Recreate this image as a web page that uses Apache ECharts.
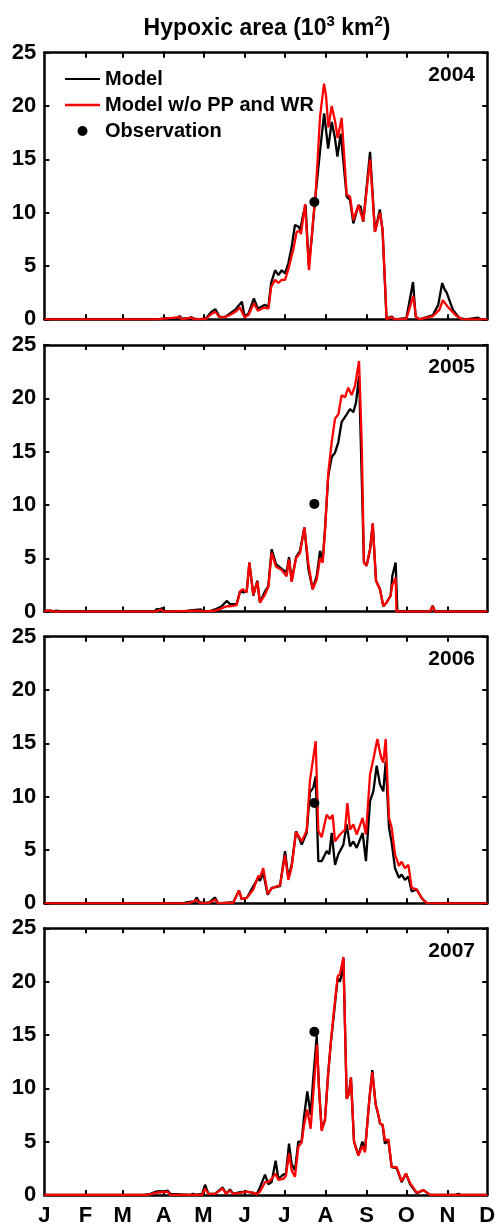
<!DOCTYPE html>
<html>
<head>
<meta charset="utf-8">
<script src="https://cdn.jsdelivr.net/npm/echarts@6.0.0/dist/echarts.min.js"></script>
<style>
html,body{margin:0;padding:0;background:#fff;}
#chart{width:496px;height:1224px;}
</style>
</head>
<body>
<div id="chart"></div>
<script>
// ---- axis definitions ----
const MONTH_DAYS = [0, 31, 59, 90, 120, 151, 181, 212, 243, 273, 304, 334];
const MONTH_LABELS = ['J', 'F', 'M', 'A', 'M', 'J', 'J', 'A', 'S', 'O', 'N', 'D'];
const Y_MIN = 0, Y_MAX = 25, Y_STEP = 5;
const YEARS = ['2004', '2005', '2006', '2007'];
const TITLE_MAIN = 'Hypoxic area (10{sup|3} km{sup|2})';
const NAME_MODEL = 'Model';
const NAME_NOPP = 'Model w/o PP and WR';
const NAME_OBS = 'Observation';

// ---- data: [day of year, hypoxic area (10^3 km^2)] ----
const model2004 = [[0,0],[85,0],[92,0.1],[95,0.05],[100,0.1],[102,0.3],[104,0.05],[109,0.1],[111,0.2],[113,0.05],[118,0],[122,0.1],[126,0.7],[129,0.95],[132,0.25],[136,0.2],[140,0.55],[144,0.9],[146,1.2],[149,1.65],[151,0.25],[154,0.55],[158,1.95],[161,1.0],[164,1.2],[166,1.35],[169,1.2],[171,3.4],[174,4.6],[176.5,4.15],[179,4.6],[181.5,4.3],[184,5.25],[186.5,6.8],[189,8.85],[191.5,8.7],[193,8.4],[195.3,9.9],[197,10.7],[199.4,5.0],[201.5,7.5],[204,11.0],[208,15.9],[211,19.3],[214,16.0],[216.7,18.5],[219,17.1],[221,15.25],[223.5,17.4],[228,11.5],[230.5,11.2],[233,9.0],[236.8,10.7],[238.5,10.55],[240.5,9.15],[245.6,15.7],[249.3,8.2],[253,10.3],[255,8.4],[258,0.1],[262,0.25],[264,0],[273,0.1],[278,3.5],[280,0.25],[283,0],[293,0.4],[297,1.35],[300,3.4],[302,2.75],[303.4,2.5],[308,0.9],[313,0.1],[318,0],[327,0.15],[329,0],[334,0]];
const noPP2004 = [[0,0],[85,0],[102,0.2],[104,0],[111,0.15],[113,0],[122,0.05],[126,0.5],[129,0.7],[132,0.2],[136,0.2],[140,0.4],[144,0.7],[147.5,1.1],[149,1.2],[151,0.2],[154,0.4],[158,1.5],[161,0.8],[166,1.1],[169,1.0],[171,3.0],[174,3.7],[176.5,3.4],[179,3.7],[181.5,3.7],[184,4.7],[187.8,6.6],[190.3,8.2],[192.3,8.3],[193.5,8.0],[196.6,10.8],[199.6,4.6],[202.8,9.5],[204.6,11.8],[207.9,19.0],[210.9,22.1],[212.4,21.0],[214.2,18.0],[216.7,20.0],[219.2,18.6],[221.2,17.0],[224.2,18.9],[228,11.7],[230.5,11.5],[233,9.3],[236.8,10.7],[240.5,9.2],[245.6,15.0],[249.3,8.2],[253.1,10.0],[255.1,8.3],[258.1,0],[261.9,0.2],[264,0],[273,0.05],[278.2,2.2],[280.2,0.2],[283,0],[293,0.3],[298,0.9],[300.4,1.8],[304,1.2],[310.8,0.3],[315,0],[334,0]];
const obs2004 = [[203.6, 11.0]];

const model2005 = [[0,0],[2,0.1],[5,0.1],[7,0],[9,0.1],[11,0.05],[13,0],[83,0],[85,0.25],[87,0.2],[89,0.35],[91,0],[106,0],[108.5,0.1],[110,0],[118,0.2],[120,0],[125,0.05],[128.7,0.2],[133.7,0.5],[137.5,1.0],[140,0.7],[145,0.7],[147.6,1.9],[150.1,1.8],[152.6,1.9],[154.6,4.6],[157.6,1.5],[160.6,2.9],[162.6,0.85],[166.4,1.9],[168.9,2.4],[171.4,5.85],[174.7,4.45],[179,4.0],[182.7,3.7],[184.5,5.1],[186.5,2.9],[189.8,5.1],[192.8,5.7],[196.1,7.9],[199.1,4.0],[202.3,2.1],[205.4,3.35],[207.9,5.7],[209.9,4.8],[211.6,7.7],[214.1,12.75],[216.7,14.5],[219.2,14.9],[221.7,15.9],[224.2,17.8],[228,18.5],[230.5,19.0],[233,18.7],[235,19.6],[237.3,22.1],[239.3,12.75],[241,4.6],[243,4.3],[245.6,5.85],[247.6,8.2],[250.1,2.9],[253.1,2.1],[255.6,0.5],[258.1,0.85],[261.1,1.5],[262.4,3.35],[264.9,4.6],[266.2,0],[290.8,0],[292.8,0.55],[294.6,0],[334,0]];
const noPP2005 = [[0,0],[2,0.1],[5,0.1],[7,0],[83,0],[86,0.1],[88,0.2],[90,0],[118,0.1],[120,0],[128.7,0.1],[133.7,0.3],[137.5,0.5],[140,0.5],[145,0.6],[147.6,1.9],[149.6,2.1],[152.6,1.8],[154.6,4.6],[157.6,1.6],[160.6,2.8],[162.6,0.85],[166.4,1.6],[168.9,2.3],[171.4,5.5],[174.7,4.2],[179,3.9],[182.7,3.3],[184.5,4.9],[186.5,2.8],[189.8,5.0],[192.8,5.5],[196.1,7.9],[199.1,4.5],[202.3,2.1],[205.4,3.0],[207.9,5.0],[209.9,4.6],[211.6,7.5],[214.1,13.0],[216.7,15.9],[219.2,18.1],[221.7,18.5],[224.2,20.3],[226.7,20.1],[229.2,21.0],[231.7,20.3],[234.3,21.2],[237.3,23.5],[239.3,15.9],[241,4.6],[243,4.3],[245.6,5.8],[247.6,8.3],[250.1,2.9],[253.1,2.1],[255.6,0.5],[258.1,0.85],[261.1,1.5],[262.4,2.5],[264.9,3.2],[265.5,0],[290.8,0],[292.8,0.5],[294.6,0],[334,0]];
const obs2005 = [[203.6, 10.1]];

const model2006 = [[0,0],[104,0],[108,0.1],[111,0.15],[113,0.1],[114.8,0.55],[117,0.1],[120,0.05],[124,0.05],[128.7,0.55],[131,0],[142.5,0.1],[146.8,1.2],[148.8,0.4],[152.6,0.5],[157.6,1.6],[161.4,2.4],[162.6,2.1],[165.1,2.85],[168.4,0.8],[171.4,1.45],[177.7,1.6],[181.5,4.9],[184,2.4],[186.5,3.6],[189.8,6.75],[194.1,5.5],[197.8,6.6],[200.3,10.4],[202.8,10.85],[204.6,11.9],[206.6,3.95],[209.1,3.95],[212.9,4.9],[214.9,4.6],[216.7,6.6],[219.2,3.6],[221.7,4.6],[225.5,5.5],[228,7.4],[230.5,5.35],[233,5.8],[235.5,5.2],[240,6.6],[242.5,3.95],[245.6,9.6],[248.1,10.5],[250.6,12.9],[253.1,11.15],[255.6,10.5],[257.4,13.3],[259.9,7.1],[261.9,5.7],[264.4,3.3],[267.4,2.4],[269.4,2.7],[271.9,2.2],[274.5,2.5],[277,1.1],[280.7,1.3],[284.5,0.5],[288.3,0],[334,0]];
const noPP2006 = [[0,0],[108,0],[111,0.1],[114.8,0.3],[117,0.05],[124,0],[128.7,0.35],[131,0],[142.5,0.05],[146.8,1.2],[148.8,0.4],[152.6,0.5],[157.6,1.3],[161.4,2.6],[162.6,2.4],[165.1,3.3],[168.4,0.9],[171.4,1.4],[177.7,1.7],[181.5,4.5],[184,2.2],[186.5,3.4],[189.8,6.7],[194.1,5.8],[197.8,6.8],[200.3,11.5],[204.6,15.2],[206.6,6.8],[209.1,6.2],[212.9,8.3],[215.4,7.9],[217.4,8.3],[219.2,5.8],[222.9,6.45],[226.7,6.9],[228.5,9.4],[230.5,6.9],[233,7.4],[235.5,6.45],[240,8.0],[242.5,6.45],[245.6,12.1],[248.1,13.5],[251.1,15.4],[253.9,13.7],[255.6,13.2],[257.4,15.4],[259.9,8.0],[261.9,7.1],[264.4,4.6],[267.4,3.5],[269.4,3.9],[271.9,3.3],[274.5,3.6],[277,1.45],[280.7,1.3],[284.5,0.5],[288.3,0],[334,0]];
const obs2006 = [[203.6, 9.4]];

const model2007 = [[0,0],[75,0],[80,0.1],[84,0.3],[87,0.35],[90,0.3],[93,0.4],[95,0.1],[96,0],[110,0],[112.4,0.1],[114,0],[119,0.1],[121.2,0.95],[123.7,0.1],[128.7,0.1],[134.5,0.7],[137,0.1],[140,0.5],[142.5,0.1],[147.6,0.25],[152.6,0.3],[157.6,0.2],[160.1,0.05],[162.6,0.7],[166.4,1.9],[168.9,1.0],[171.4,1.2],[174.4,3.2],[176.5,1.5],[180.2,1.9],[182.2,2.0],[184.5,4.8],[186.5,2.9],[189,2.3],[191.5,5.0],[194,5.0],[195.8,7.3],[198.3,9.7],[200.8,7.5],[202.8,11.0],[205.4,14.9],[207.1,10],[209.1,6.2],[211.6,7.0],[214.1,11.5],[216.2,14.5],[218.4,17.0],[221.2,20.3],[222.9,20.0],[224.2,20.7],[225.5,22.2],[228,9.0],[229.7,9.5],[231.2,11.0],[233.5,5.0],[236.8,3.7],[239.8,5.0],[241.8,4.2],[245.1,9.0],[247.3,11.7],[249.8,8.5],[251.8,7.5],[253.1,6.7],[255.1,6.5],[256.8,4.8],[259.4,5.1],[261.9,2.6],[265.7,2.5],[269.4,1.2],[272.7,2.0],[275.8,1.0],[280.8,0.15],[285.8,0.45],[290.9,0],[310,0],[312.2,0.1],[314,0],[334,0]];
const noPP2007 = [[0,0],[78,0],[84,0.2],[88,0.25],[93,0.3],[95,0],[119,0],[121.2,0.6],[123.7,0.1],[128.7,0.1],[134.5,0.6],[137,0.1],[140,0.4],[142.5,0.1],[147.6,0.2],[152.6,0.3],[157.6,0.2],[160.1,0.05],[162.6,0.3],[166.4,1.2],[168.9,1.2],[171.4,1.5],[174.4,2.0],[176.5,1.4],[180.2,1.5],[182.2,1.8],[184.5,3.9],[186.5,2.3],[189,1.7],[191.5,4.5],[194,4.9],[195.8,6.5],[198.3,8.0],[200.8,6.2],[202.8,9.5],[205.6,14.1],[207.1,10],[209.1,6.0],[211.6,7.0],[214.1,11.5],[216.2,14.5],[218.4,17.3],[221.2,20.5],[222.9,20.7],[225.5,22.3],[228,9.0],[229.7,9.5],[231.2,11.0],[233.5,5.0],[236.8,3.7],[239.8,4.6],[241.8,4.0],[245.1,9.0],[247.3,11.5],[249.8,8.5],[251.8,7.6],[253.1,6.7],[255.1,6.6],[256.8,5.1],[259.4,5.2],[261.9,2.6],[265.7,2.6],[269.4,1.3],[272.7,2.0],[275.8,1.1],[280.8,0.2],[285.8,0.45],[290.9,0],[334,0]];
const obs2007 = [[203.6, 15.3]];

const MODEL = [model2004, model2005, model2006, model2007];
const NOPP = [noPP2004, noPP2005, noPP2006, noPP2007];
const OBS = [obs2004, obs2005, obs2006, obs2007];

// ---- layout / style ----
const FONT = '"Liberation Sans", Arial, Helvetica, sans-serif';
const PANEL_TOPS = [52.7, 345, 636.7, 928.3];
const PANEL_H = 266.6;
const PANEL_L = 44.3;
const PANEL_W = 443;
const FRAME_W = 2.5;
// legend line icons: bounding box 35x10 with a thin bar in the middle
const LINE_ICON_BLACK = 'path://M0,0M35,10M0,3.9L35,3.9L35,6.1L0,6.1Z';
const LINE_ICON_RED = 'path://M0,0M35,10M0,3.8L35,3.8L35,6.2L0,6.2Z';

const chart = echarts.init(document.getElementById('chart'), null, {renderer: 'canvas'});

const grids = [], xAxes = [], yAxes = [], series = [], graphics = [];
const labelMap = {};
MONTH_DAYS.forEach((d, i) => { labelMap[d] = MONTH_LABELS[i]; });

for (let i = 0; i < 4; i++) {
  grids.push({left: PANEL_L, top: PANEL_TOPS[i], width: PANEL_W, height: PANEL_H, containLabel: false, outerBoundsMode: 'none', show: false});
  const isLast = i === 3;
  const xBase = {
    gridIndex: i, type: 'value', min: MONTH_DAYS[0], max: MONTH_DAYS[MONTH_DAYS.length - 1],
    axisLine: {show: true, onZero: false, lineStyle: {color: '#000', width: FRAME_W}},
    axisTick: {show: true, inside: true, length: 5, customValues: MONTH_DAYS.slice(1, -1), lineStyle: {color: '#000', width: 2}},
    splitLine: {show: false}
  };
  xAxes.push(Object.assign({}, xBase, {
    position: 'bottom',
    axisLabel: {show: isLast, customValues: MONTH_DAYS, margin: 10, color: '#000', fontSize: 22, fontWeight: 'bold', fontFamily: FONT,
      formatter: v => labelMap[v] !== undefined ? labelMap[v] : ''}
  }));
  xAxes.push(Object.assign({}, xBase, {position: 'top', axisLabel: {show: false}}));
  const yBase = {
    gridIndex: i, type: 'value', min: Y_MIN, max: Y_MAX, interval: Y_STEP,
    axisLine: {show: true, onZero: false, lineStyle: {color: '#000', width: FRAME_W}},
    axisTick: {show: true, inside: true, length: 5, lineStyle: {color: '#000', width: 2}},
    splitLine: {show: false}
  };
  yAxes.push(Object.assign({}, yBase, {
    position: 'left',
    axisLabel: {show: true, margin: 8, color: '#000', fontSize: 22, fontWeight: 'bold', fontFamily: FONT}
  }));
  yAxes.push(Object.assign({}, yBase, {position: 'right', axisLabel: {show: false}}));

  series.push({
    name: NAME_MODEL, type: 'line', xAxisIndex: 2 * i, yAxisIndex: 2 * i, data: MODEL[i],
    symbol: 'none', showSymbol: false, lineStyle: {color: '#000', width: 2.3}, itemStyle: {color: '#000'}, z: 2, clip: true
  });
  series.push({
    name: NAME_NOPP, type: 'line', xAxisIndex: 2 * i, yAxisIndex: 2 * i, data: NOPP[i],
    symbol: 'none', showSymbol: false, lineStyle: {color: '#ff0000', width: 2.3}, itemStyle: {color: '#ff0000'}, z: 3, clip: true
  });
  series.push({
    name: NAME_OBS, type: 'scatter', xAxisIndex: 2 * i, yAxisIndex: 2 * i, data: OBS[i],
    symbol: 'circle', symbolSize: 10, itemStyle: {color: '#000', opacity: 1}, z: 4
  });

  graphics.push({
    type: 'text', x: 475, y: PANEL_TOPS[i] + 22.5,
    style: {text: YEARS[i], align: 'right', verticalAlign: 'middle', fill: '#000',
      font: 'bold 21px ' + FONT}
  });
}

graphics.push({
  type: 'text', x: 267, y: 29,
  style: {
    text: TITLE_MAIN, align: 'center', verticalAlign: 'middle', fill: '#000',
    font: 'bold 23px ' + FONT, lineHeight: 30,
    rich: {sup: {fontSize: 15, fontWeight: 'bold', fontFamily: FONT, fill: '#000', verticalAlign: 'top', lineHeight: 15}}
  }
});

chart.setOption({
  animation: false,
  backgroundColor: '#fff',
  grid: grids,
  xAxis: xAxes,
  yAxis: yAxes,
  series: series,
  legend: {
    show: true, orient: 'vertical', left: 65, top: 69, padding: 0,
    itemWidth: 35, itemHeight: 10, itemGap: 6, selectedMode: false,
    textStyle: {color: '#000', fontSize: 20, fontWeight: 'bold', fontFamily: FONT},
    data: [
      {name: NAME_MODEL, icon: LINE_ICON_BLACK, itemStyle: {color: '#000'}},
      {name: NAME_NOPP, icon: LINE_ICON_RED, itemStyle: {color: '#ff0000'}},
      {name: NAME_OBS, icon: 'circle', itemStyle: {color: '#000', opacity: 1}}
    ]
  },
  graphic: graphics
});
</script>
</body>
</html>
